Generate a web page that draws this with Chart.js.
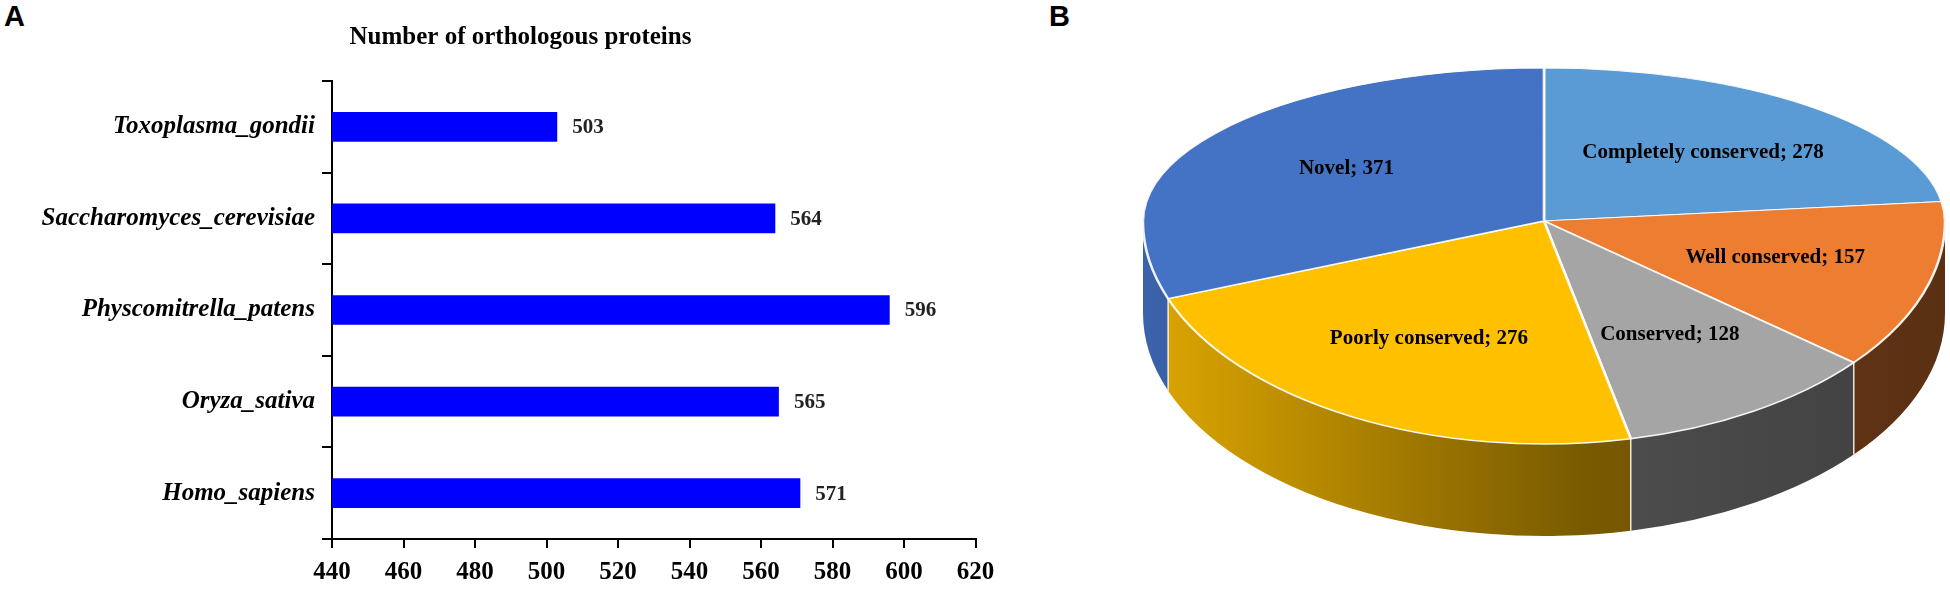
<!DOCTYPE html>
<html>
<head>
<meta charset="utf-8">
<script src="https://cdn.jsdelivr.net/npm/chart.js@4.4.1/dist/chart.umd.min.js"></script>
<style>
    html, body { margin: 0; padding: 0; background: #fff; }
    body { width: 1950px; height: 608px; position: relative; overflow: hidden; }
    .panel-tag { position: absolute; top: 2px; font: bold 29px 'Liberation Sans', Arial, sans-serif; line-height: 1; color: #000; }
    #bar-wrap { position: absolute; left: 0; top: 0; width: 1041px; height: 608px; }
    #pie-wrap { position: absolute; left: 1100px; top: 0; width: 850px; height: 608px; }
</style>
</head>
<body>
<div class="panel-tag" style="left:4px">A</div>
<div class="panel-tag" style="left:1049px">B</div>
<div id="bar-wrap"><canvas id="ortho-chart"></canvas></div>
<div id="pie-wrap"><canvas id="conserv-chart"></canvas></div>

<script>
// ---- data ----
const species = ['Toxoplasma_gondii', 'Saccharomyces_cerevisiae', 'Physcomitrella_patens', 'Oryza_sativa', 'Homo_sapiens'];
const orthologCounts = [503, 564, 596, 565, 571];
const xTickValues = [440, 460, 480, 500, 520, 540, 560, 580, 600, 620];
const barTitle = 'Number of orthologous proteins';

const conservClasses = ['Completely conserved', 'Well conserved', 'Conserved', 'Poorly conserved', 'Novel'];
const conservCounts = [278, 157, 128, 276, 371];

// ---- styles ----
const SERIF = "'Liberation Serif', 'Times New Roman', serif";
const faceColors = ['#5B9BD5', '#ED7D31', '#A5A5A5', '#FFC000', '#4472C4'];
// tilted pie inside its canvas (pixels): apex, half width, back / front half heights, wall depth
const PIE = { cx: 444, cy: 221, rx: 401, ryBack: 153, ryFront: 223, depth: 92 };

function shade(hex, f) {
    const n = parseInt(hex.slice(1), 16);
    const r = Math.round(((n >> 16) & 255) * f);
    const g = Math.round(((n >> 8) & 255) * f);
    const b = Math.round((n & 255) * f);
    return `rgb(${r},${g},${b})`;
}

// =================== A: bar chart ===================

// title is centred on the canvas, not on the plot area, so it is drawn here
const barDecor = {
    id: 'barDecor',
    afterDraw(chart) {
        const ctx = chart.ctx;
        ctx.save();
        ctx.font = `bold 25px ${SERIF}`;
        ctx.fillStyle = '#000';
        ctx.textAlign = 'center';
        ctx.textBaseline = 'middle';
        ctx.fillText(barTitle, chart.width / 2, 38);
        ctx.restore();
    },
    afterDatasetsDraw(chart) {
        const ctx = chart.ctx;
        const meta = chart.getDatasetMeta(0);
        ctx.save();
        ctx.font = `bold 21px ${SERIF}`;
        ctx.fillStyle = '#222';
        ctx.textAlign = 'left';
        ctx.textBaseline = 'middle';
        meta.data.forEach((bar, i) => {
            ctx.fillText(String(orthologCounts[i]), bar.x + 15, bar.y + 1);
        });
        ctx.restore();
    }
};

new Chart(document.getElementById('ortho-chart'), {
    type: 'bar',
    data: {
        labels: species,
        datasets: [{
            data: orthologCounts,
            backgroundColor: '#0000FF',
            borderWidth: 0,
            categoryPercentage: 1,
            barPercentage: 0.324
        }]
    },
    options: {
        indexAxis: 'y',
        responsive: true,
        maintainAspectRatio: false,
        animation: false,
        events: [],
        layout: { padding: { left: 0, right: 65.5, top: 81, bottom: 0 } },
        plugins: {
            legend: { display: false },
            tooltip: { enabled: false },
            title: { display: false }
        },
        scales: {
            x: {
                type: 'linear',
                min: xTickValues[0],
                max: xTickValues[xTickValues.length - 1],
                afterBuildTicks: s => { s.ticks = xTickValues.map(v => ({ value: v })); },
                afterFit: s => { s.height = 69; },
                border: { display: true, color: '#000', width: 2 },
                grid: { drawOnChartArea: false, drawTicks: true, tickLength: 9, color: '#000', lineWidth: 2 },
                ticks: {
                    autoSkip: false,
                    maxRotation: 0,
                    padding: 10,
                    color: '#000',
                    font: { family: SERIF, size: 25, weight: 'bold' }
                }
            },
            y: {
                afterFit: s => { s.width = 332; },
                border: { display: true, color: '#000', width: 2 },
                grid: { drawOnChartArea: false, drawTicks: true, tickLength: 10, color: '#000', lineWidth: 2 },
                ticks: {
                    padding: 7,
                    color: '#000',
                    font: { family: SERIF, size: 25, weight: 'bold', style: 'italic' }
                }
            }
        }
    },
    plugins: [barDecor]
});

// =================== B: 3D pie ===================

// map the library's circle onto one half of the tilted face
function faceTransform(ctx, ref, ry) {
    ctx.translate(PIE.cx, PIE.cy);
    ctx.scale(PIE.rx / ref.outerRadius, ry / ref.outerRadius);
    ctx.translate(-ref.x, -ref.y);
}

const pie3d = {
    id: 'pie3d',
    beforeDatasetsDraw(chart) {
        const ctx = chart.ctx;
        const arcs = chart.getDatasetMeta(0).data;

        // side walls of the front half
        arcs.forEach((arc, i) => {
            const s = Math.max(arc.startAngle, 0);
            const e = Math.min(arc.endAngle, Math.PI);
            if (e <= s) return;
            const g = ctx.createLinearGradient(PIE.cx - PIE.rx, 0, PIE.cx + PIE.rx, 0);
            g.addColorStop(0, shade(faceColors[i], 0.87));
            g.addColorStop(0.55, shade(faceColors[i], 0.47));
            g.addColorStop(1, shade(faceColors[i], 0.38));
            ctx.beginPath();
            ctx.ellipse(PIE.cx, PIE.cy, PIE.rx, PIE.ryFront, 0, s, e);
            ctx.ellipse(PIE.cx, PIE.cy + PIE.depth, PIE.rx, PIE.ryFront, 0, e, s, true);
            ctx.closePath();
            ctx.fillStyle = g;
            ctx.fill();
        });

        // light seams between the walls
        ctx.save();
        ctx.strokeStyle = 'rgba(255,255,255,0.85)';
        ctx.lineWidth = 1.5;
        arcs.forEach(arc => {
            const a = arc.startAngle;
            if (a > 0 && a < Math.PI) {
                const x = PIE.cx + PIE.rx * Math.cos(a);
                const y = PIE.cy + PIE.ryFront * Math.sin(a);
                ctx.beginPath();
                ctx.moveTo(x, y);
                ctx.lineTo(x, y + PIE.depth);
                ctx.stroke();
            }
        });
        ctx.restore();

        // back half of the face: the library draws it squashed
        ctx.save();
        ctx.beginPath();
        ctx.rect(0, 0, chart.width, PIE.cy + 0.5);
        ctx.clip();
        faceTransform(ctx, arcs[0], PIE.ryBack);
    },
    afterDatasetsDraw(chart) {
        const ctx = chart.ctx;
        const meta = chart.getDatasetMeta(0);
        ctx.restore();
        // front half of the face, less squashed (perspective)
        ctx.save();
        ctx.beginPath();
        ctx.rect(0, PIE.cy - 0.5, chart.width, chart.height);
        ctx.clip();
        faceTransform(ctx, meta.data[0], PIE.ryFront);
        meta.controller.draw();
        ctx.restore();
    },
    afterDraw(chart) {
        const ctx = chart.ctx;
        const arcs = chart.getDatasetMeta(0).data;
        ctx.save();
        ctx.font = `bold 21px ${SERIF}`;
        ctx.fillStyle = '#000';
        ctx.textAlign = 'center';
        ctx.textBaseline = 'middle';
        arcs.forEach((arc, i) => {
            const mid = (arc.startAngle + arc.endAngle) / 2;
            const ry = Math.sin(mid) < 0 ? PIE.ryBack : PIE.ryFront;
            const x = PIE.cx + PIE.rx * 0.6 * Math.cos(mid);
            const y = PIE.cy + ry * 0.6 * Math.sin(mid);
            ctx.fillText(`${conservClasses[i]}; ${conservCounts[i]}`, x, y);
        });
        ctx.restore();
    }
};

new Chart(document.getElementById('conserv-chart'), {
    type: 'pie',
    data: {
        labels: conservClasses,
        datasets: [{
            data: conservCounts,
            backgroundColor: faceColors,
            borderColor: 'rgba(255,255,255,0.9)',
            borderWidth: 2,
            clip: false
        }]
    },
    options: {
        responsive: true,
        maintainAspectRatio: false,
        animation: false,
        events: [],
        layout: { padding: 0 },
        plugins: {
            legend: { display: false },
            tooltip: { enabled: false }
        }
    },
    plugins: [pie3d]
});
</script>
</body>
</html>
